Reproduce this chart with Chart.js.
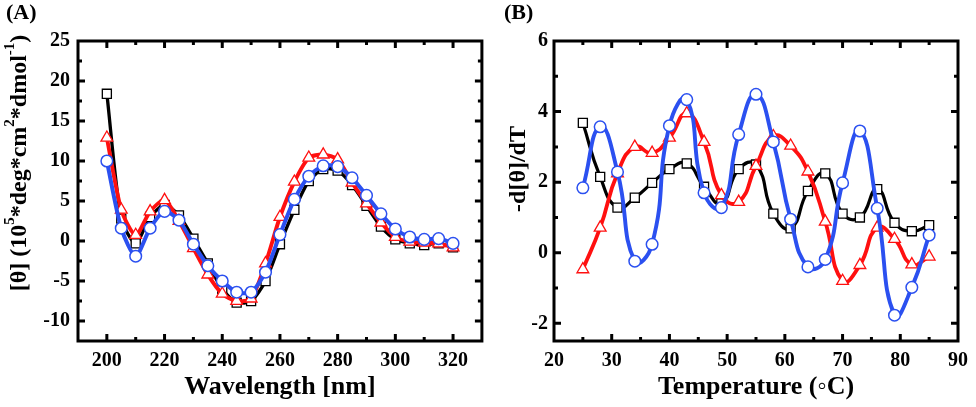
<!DOCTYPE html>
<html>
<head>
<meta charset="utf-8">
<script src="https://cdn.jsdelivr.net/npm/chart.js@4.4.1/dist/chart.umd.min.js"></script>
<style>
  html, body { margin: 0; padding: 0; background: #fff; }
  body { width: 976px; height: 407px; position: relative; overflow: hidden; }
  canvas { position: absolute; top: 0; }
  #panelA { left: 0; }
  #panelB { left: 490px; }
</style>
</head>
<body>
<canvas id="panelA" width="490" height="407"></canvas>
<canvas id="panelB" width="486" height="407"></canvas>
<script>
// Panel A: CD spectra
const wavelength = [200, 205, 210, 215, 220, 225, 230, 235, 240, 245, 250, 255, 260,
                    265, 270, 275, 280, 285, 290, 295, 300, 305, 310, 315, 320];
const cdBlack = [18.4, 2.8, -0.3, 3.0, 4.5, 3.2, 0.3, -2.8, -6.0, -7.7, -7.5, -5.0, -0.4,
                 3.9, 7.5, 9.0, 8.8, 7.0, 4.4, 1.8, 0.2, -0.3, -0.5, -0.3, -0.8];
const cdRed = [12.9, 3.9, 0.75, 3.7, 5.1, 2.5, -0.9, -4.2, -6.6, -7.5, -7.2, -2.8, 3.0,
               7.4, 10.4, 10.8, 10.2, 7.3, 4.7, 2.3, 0.5, -0.1, -0.2, -0.3, -0.8];
const cdBlue = [10.0, 1.6, -1.9, 1.6, 3.7, 2.6, -0.4, -3.1, -5.0, -6.4, -6.4, -3.9, 0.8,
                5.2, 8.1, 9.4, 9.3, 7.9, 5.7, 3.4, 1.5, 0.5, 0.2, 0.3, -0.3];
const xTicksA = [200, 220, 240, 260, 280, 300, 320];
const yTicksA = [-10, -5, 0, 5, 10, 15, 20, 25];

// Panel B: first derivative of melting curves
const temperature = [25, 28, 31, 34, 37, 40, 43, 46, 49, 52, 55, 58, 61, 64, 67, 70, 73, 76, 79, 82, 85];
const dBlack = [3.68, 2.15, 1.28, 1.56, 1.98, 2.37, 2.53, 1.87, 1.4, 2.37, 2.5,
                1.11, 0.69, 1.75, 2.25, 1.11, 1.0, 1.8, 0.85, 0.61, 0.78];
const dRed = [-0.47, 0.71, 2.25, 3.0, 2.83, 3.26, 3.95, 3.14, 1.63, 1.44, 2.46,
              3.3, 3.03, 2.3, 0.88, -0.8, -0.35, 0.71, 0.39, -0.33, -0.11];
const dBlue = [1.84, 3.57, 2.29, -0.24, 0.24, 3.6, 4.34, 1.7, 1.28, 3.35, 4.49,
               3.14, 0.95, -0.4, -0.19, 1.98, 3.45, 1.26, -1.77, -0.98, 0.5];
const xTicksB = [20, 30, 40, 50, 60, 70, 80, 90];
const yTicksB = [-2, 0, 2, 4, 6];

const SERIF = "'Liberation Serif', 'Times New Roman', serif";
const BLUE = '#2b50f0';
const RED = '#ff1010';

// frame with inward major/minor ticks on all four sides, plus y title and panel tag
const framePlugin = {
    id: 'frame',
    afterDraw(chart, args, opts) {
        const { ctx, chartArea: a } = chart;
        const xs = chart.scales.x, ys = chart.scales.y;
        ctx.save();
        ctx.strokeStyle = '#000';
        ctx.lineWidth = 3;
        ctx.lineCap = 'butt';
        ctx.strokeRect(a.left, a.top, a.right - a.left, a.bottom - a.top);

        const mid = t => t.slice(1).map((v, i) => (v + t[i]) / 2);
        const drawX = (vals, len) => vals.forEach(v => {
            const px = xs.getPixelForValue(v);
            if (px <= a.left + 2 || px >= a.right - 2) return;
            ctx.beginPath();
            ctx.moveTo(px, a.bottom); ctx.lineTo(px, a.bottom - len);
            ctx.moveTo(px, a.top); ctx.lineTo(px, a.top + len);
            ctx.stroke();
        });
        const drawY = (vals, len) => vals.forEach(v => {
            const py = ys.getPixelForValue(v);
            if (py <= a.top + 2 || py >= a.bottom - 2) return;
            ctx.beginPath();
            ctx.moveTo(a.left, py); ctx.lineTo(a.left + len, py);
            ctx.moveTo(a.right, py); ctx.lineTo(a.right - len, py);
            ctx.stroke();
        });
        drawX(opts.xTicks, 7);
        drawX(mid(opts.xTicks).concat(opts.xExtraMinor || []), 4);
        drawY(opts.yTicks, 7);
        drawY(mid(opts.yTicks).concat(opts.yExtraMinor || []), 4);

        // panel tag
        ctx.fillStyle = '#000';
        ctx.font = 'bold 22px ' + SERIF;
        ctx.textAlign = 'left';
        ctx.textBaseline = 'middle';
        ctx.fillText(opts.tag, opts.tagX, 13);

        // rotated y title with superscripts
        const size = 24, supSize = 15;
        const parts = opts.yTitle;
        const widthOf = p => {
            ctx.font = 'bold ' + (p.sup ? supSize : size) + 'px ' + SERIF;
            return ctx.measureText(p.t).width;
        };
        const total = parts.reduce((s, p) => s + widthOf(p), 0);
        ctx.translate(opts.titleX, opts.titleY);
        ctx.rotate(-Math.PI / 2);
        let cx = -total / 2;
        parts.forEach(p => {
            const w = widthOf(p);
            ctx.fillText(p.t, cx, p.sup ? -10 : 0);
            cx += w;
        });
        ctx.restore();
    }
};

function series(xs, ys) {
    return xs.map((x, i) => ({ x: x, y: ys[i] }));
}

function makeChart(id, cfg) {
    const tickFont = { family: SERIF, size: 20, weight: 'bold' };
    return new Chart(document.getElementById(id), {
        type: 'line',
        data: {
            datasets: [
                {
                    data: series(cfg.x, cfg.blue),
                    borderColor: BLUE, borderWidth: cfg.lw + 0.7,
                    pointStyle: 'circle', pointRadius: 5.8,
                    pointBackgroundColor: '#fff', pointBorderColor: BLUE, pointBorderWidth: 1.5,
                    tension: cfg.tension, order: 0
                },
                {
                    data: series(cfg.x, cfg.red),
                    borderColor: RED, borderWidth: cfg.lw + 0.6,
                    pointStyle: 'triangle', pointRadius: 6.8,
                    pointBackgroundColor: '#fff', pointBorderColor: RED, pointBorderWidth: 1.3,
                    tension: cfg.tension, order: 1
                },
                {
                    data: series(cfg.x, cfg.black),
                    borderColor: '#000', borderWidth: cfg.lw,
                    pointStyle: 'rect', pointRadius: 6.4,
                    pointBackgroundColor: '#fff', pointBorderColor: '#000', pointBorderWidth: 1.3,
                    tension: cfg.tension, order: 2
                }
            ]
        },
        options: {
            responsive: false,
            animation: false,
            layout: { padding: { left: 0, top: 41, right: cfg.padRight, bottom: 0 } },
            plugins: {
                legend: { display: false },
                tooltip: { enabled: false },
                frame: cfg.frame
            },
            scales: {
                x: {
                    type: 'linear',
                    min: cfg.xMin, max: cfg.xMax,
                    grid: { display: false, drawTicks: false },
                    border: { display: false },
                    afterBuildTicks: s => { s.ticks = cfg.xTicks.map(v => ({ value: v })); },
                    afterFit: s => { s.height = 66; },
                    ticks: { font: tickFont, color: '#000', padding: 8, maxRotation: 0 },
                    title: {
                        display: true, text: cfg.xTitle, color: '#000',
                        font: { family: SERIF, size: 26, weight: 'bold' },
                        padding: { top: 0, bottom: 4 }
                    }
                },
                y: {
                    type: 'linear',
                    min: cfg.yMin, max: cfg.yMax,
                    grid: { display: false, drawTicks: false },
                    border: { display: false },
                    afterBuildTicks: s => { s.ticks = cfg.yTicks.map(v => ({ value: v })); },
                    afterFit: s => { s.width = cfg.yWidth; },
                    ticks: { font: tickFont, color: '#000', padding: cfg.yPad }
                }
            }
        },
        plugins: [framePlugin]
    });
}

makeChart('panelA', {
    x: wavelength, black: cdBlack, red: cdRed, blue: cdBlue,
    xMin: 190, xMax: 330, yMin: -12.5, yMax: 25,
    xTicks: xTicksA, yTicks: yTicksA,
    xTitle: 'Wavelength [nm]',
    yWidth: 78, yPad: 8, padRight: 5, lw: 3.3, tension: 0.25,
    frame: {
        xTicks: xTicksA, yTicks: yTicksA, yExtraMinor: [-12.5],
        tag: '(A)', tagX: 6, titleX: 20, titleY: 163,
        yTitle: [{ t: '[θ] (10' }, { t: '5', sup: true }, { t: '*deg*cm' }, { t: '2', sup: true },
                 { t: '*dmol' }, { t: '-1', sup: true }, { t: ')' }]
    }
});

makeChart('panelB', {
    x: temperature, black: dBlack, red: dRed, blue: dBlue,
    xMin: 20, xMax: 90, yMin: -2.5, yMax: 6,
    xTicks: xTicksB, yTicks: yTicksB,
    xTitle: 'Temperature (◦C)',
    yWidth: 64, yPad: 6, padRight: 13, lw: 3.2, tension: 0.5,
    frame: {
        xTicks: xTicksB, yTicks: yTicksB,
        tag: '(B)', tagX: 14, titleX: 29, titleY: 169,
        yTitle: [{ t: '-d[θ]/dT' }]
    }
});
</script>
</body>
</html>
